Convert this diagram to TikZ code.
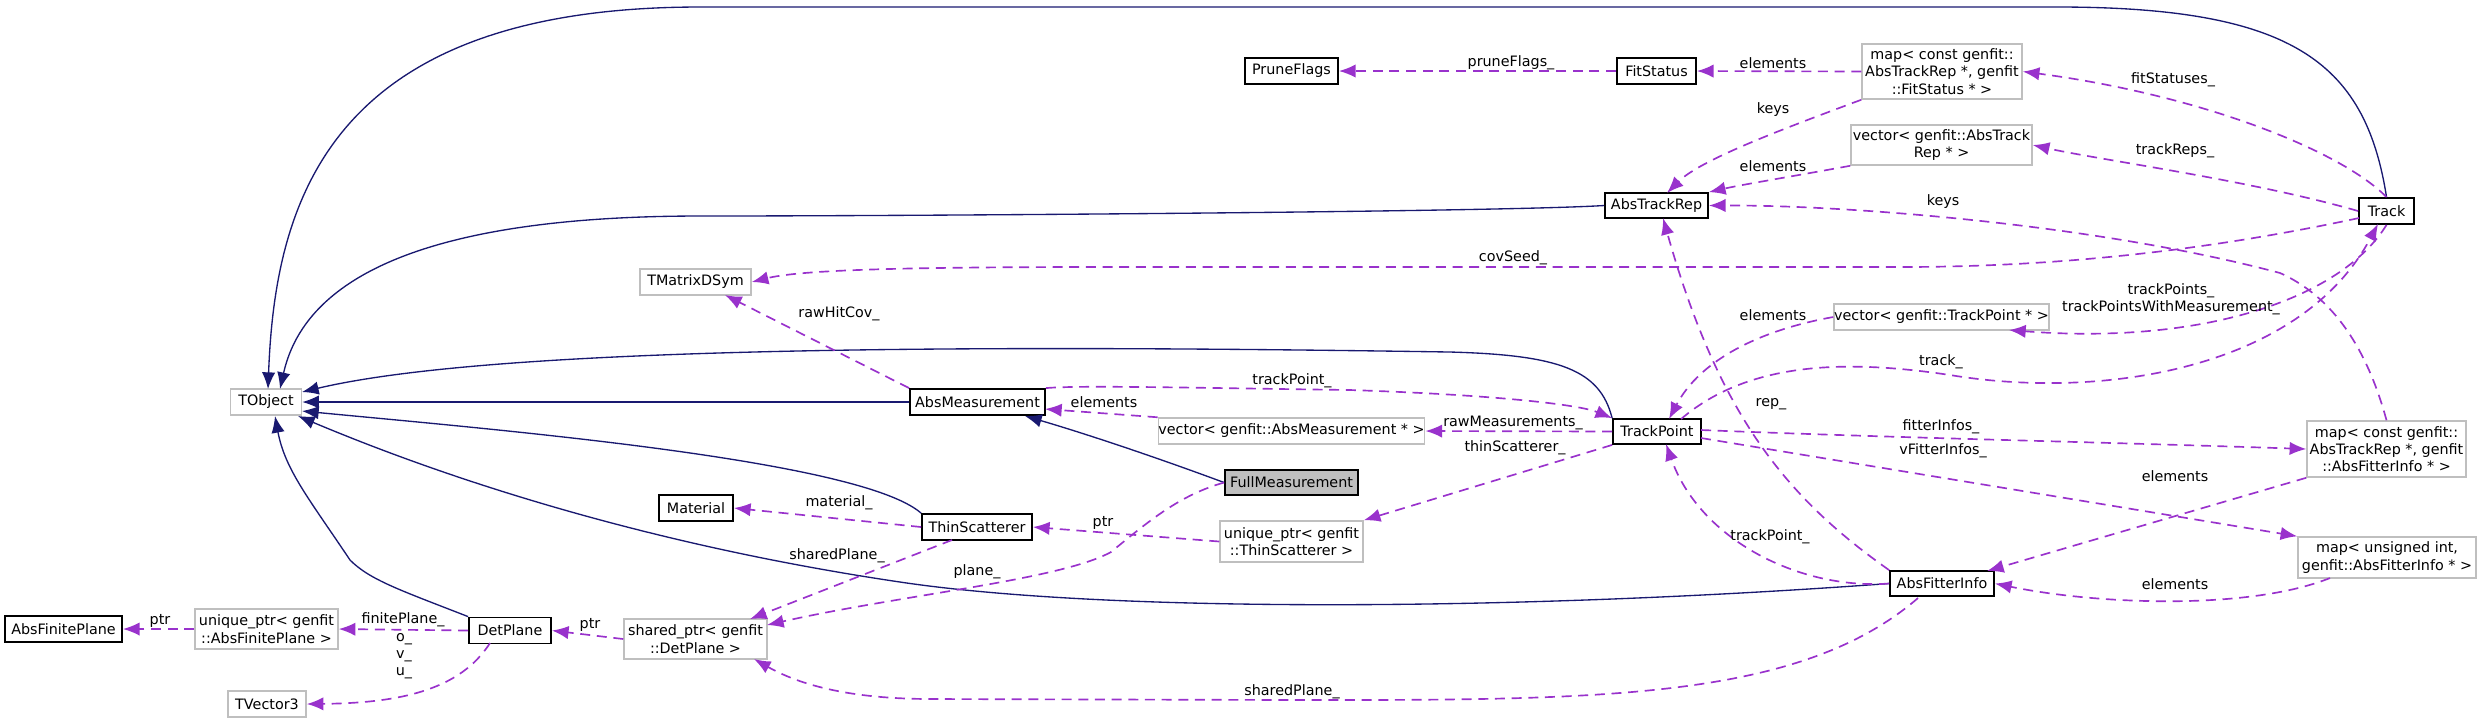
\documentclass[tikz,border=0pt]{standalone}
\usepackage{fontspec}
\setmainfont{DejaVu Sans}
\usetikzlibrary{arrows.meta}
\definecolor{inh}{RGB}{25,25,112}
\definecolor{usg}{RGB}{153,50,204}
\definecolor{gbd}{RGB}{191,191,191}
\begin{document}
\begin{tikzpicture}[x=0.3pt,y=-0.3pt,
  every node/.style={font=\fontsize{4.3pt}{5.2pt}\selectfont, inner sep=0pt, align=center},
  bx/.style={draw=black, line width=0.55pt, fill=white},
  gx/.style={draw=gbd, line width=0.45pt, fill=white},
  fx/.style={draw=black, line width=0.55pt, fill=gbd},
  lbl/.style={fill=none},
  ih/.style={draw=inh, line width=0.4pt, -{Latex[length=5pt,width=4pt]}},
  us/.style={draw=usg, line width=0.5pt, dash pattern=on 3pt off 2pt, -{Latex[length=5pt,width=4pt]}}]
\useasboundingbox (0,0) rectangle (2483,720);
% nodes
\node[gx, minimum width=21.3pt, minimum height=7.8pt] (tobj) at (266,402) {TObject};
\node[bx, minimum width=35.1pt, minimum height=7.8pt] (afp) at (63.5,629) {AbsFinitePlane};
\node[gx, minimum width=42.9pt, minimum height=12pt] (uafp) at (266.5,629) {unique\_ptr< genfit\\::AbsFinitePlane >};
\node[bx, minimum width=24.6pt, minimum height=7.8pt] (detp) at (510,630.5) {DetPlane};
\node[gx, minimum width=23.4pt, minimum height=7.8pt] (tv3) at (267,704) {TVector3};
\node[gx, minimum width=42.9pt, minimum height=12pt] (sdp) at (695.5,639) {shared\_ptr< genfit\\::DetPlane >};
\node[bx, minimum width=22.2pt, minimum height=7.8pt] (mat) at (696,508) {Material};
\node[bx, minimum width=33pt, minimum height=7.8pt] (thin) at (977,527) {ThinScatterer};
\node[bx, minimum width=40.5pt, minimum height=7.8pt] (absm) at (977.5,402) {AbsMeasurement};
\node[gx, minimum width=78.9pt, minimum height=7.8pt] (vam) at (1291.5,431) {vector< genfit::AbsMeasurement * >};
\node[fx, minimum width=39.9pt, minimum height=7.5pt] (full) at (1291.5,482.5) {FullMeasurement};
\node[gx, minimum width=42.9pt, minimum height=12.3pt] (uts) at (1291.5,541.5) {unique\_ptr< genfit\\::ThinScatterer >};
\node[bx, minimum width=27.9pt, minimum height=7.8pt] (prune) at (1291.5,71) {PruneFlags};
\node[gx, minimum width=33.3pt, minimum height=7.8pt] (tmat) at (695.5,282) {TMatrixDSym};
\node[bx, minimum width=23.7pt, minimum height=7.8pt] (fits) at (1656.5,71) {FitStatus};
\node[gx, minimum width=48pt, minimum height=16.5pt] (mfs) at (1942,71.5) {map< const genfit::\\AbsTrackRep *, genfit\\::FitStatus * >};
\node[gx, minimum width=54.3pt, minimum height=12pt] (vatr) at (1941.5,145) {vector< genfit::AbsTrack\\Rep * >};
\node[bx, minimum width=30.9pt, minimum height=7.5pt] (atr) at (1656.5,205.5) {AbsTrackRep};
\node[bx, minimum width=16.5pt, minimum height=7.8pt] (track) at (2386.5,211) {Track};
\node[gx, minimum width=64.5pt, minimum height=7.8pt] (vtp) at (1941.5,317) {vector< genfit::TrackPoint * >};
\node[bx, minimum width=26.4pt, minimum height=7.5pt] (tp) at (1657,431.5) {TrackPoint};
\node[gx, minimum width=47.7pt, minimum height=16.8pt] (mafi) at (2386.5,449) {map< const genfit::\\AbsTrackRep *, genfit\\::AbsFitterInfo * >};
\node[gx, minimum width=53.4pt, minimum height=12.3pt] (mui) at (2387,557.5) {map< unsigned int,\\genfit::AbsFitterInfo * >};
\node[bx, minimum width=31.2pt, minimum height=7.5pt] (afi) at (1942,583.5) {AbsFitterInfo};
% inheritance
\draw[ih] (track.north) .. controls (2365,60) and (2290,6) .. (2050,7) -- (700,7) .. controls (330,7) and (275,200) .. (268,389);
\draw[ih] (atr.west) .. controls (1500,212) and (900,216) .. (700,216) .. controls (380,216) and (300,300) .. (280,389);
\draw[ih] (tp.north west) .. controls (1600,370) and (1560,355) .. (1450,352) .. controls (1000,345) and (500,345) .. (302,392);
\draw[ih] (absm.west) -- (tobj.east);
\draw[ih] (thin.north west) .. controls (860,460) and (500,430) .. (302,411);
\draw[ih] (afi.west) .. controls (1500,612) and (1100,612) .. (900,582) .. controls (650,545) and (450,480) .. (298,416);
\draw[ih] (detp.north west) .. controls (400,590) and (370,580) .. (350,560) .. controls (310,500) and (285,470) .. (275,416);
\draw[ih] (full.west) .. controls (1150,455) and (1080,432) .. (1025,416);
% usage
\draw[us] (fits.west) -- (prune.east);
\draw[us] (mfs.west) -- (fits.east);
\draw[us] (mfs.south west) .. controls (1780,130) and (1700,160) .. (1667,193);
\draw[us] (vatr.south west) .. controls (1800,175) and (1740,185) .. (atr.north east);
\draw[us] (mafi.north) .. controls (2370,360) and (2340,300) .. (2280,273) .. controls (2100,225) and (1850,205) .. (atr.east);
\draw[us] (afi.north west) .. controls (1790,500) and (1720,420) .. (1663,218);
\draw[us] (track.north) .. controls (2340,150) and (2200,95) .. (mfs.east);
\draw[us] (track.west) .. controls (2250,180) and (2100,160) .. (vatr.east);
\draw[us] (2359,218) .. controls (2200,252) and (2050,267) .. (1900,267) -- (1100,267) .. controls (900,267) and (800,270) .. (tmat.east);
\draw[us] (absm.north west) -- (725,295);
\draw[us] (track.south) .. controls (2340,300) and (2200,345) .. (2009,330);
\draw[us] (1681,419) .. controls (1750,360) and (1850,360) .. (1950,375) .. controls (2100,400) and (2300,370) .. (2378,224);
\draw[us] (vtp.west) .. controls (1760,330) and (1700,360) .. (1669,419);
\draw[us] (absm.north east) .. controls (1080,385) and (1200,388) .. (1350,390) .. controls (1500,395) and (1580,405) .. (tp.north west);
\draw[us] (afi.west) .. controls (1800,590) and (1700,540) .. (1666,444);
\draw[us] (vam.north west) -- (1045,409);
\draw[us] (tp.west) -- (vam.east);
\draw[us] (tp.south west) -- (uts.north east);
\draw[us] (1701,430) .. controls (1900,438) and (2100,442) .. (mafi.west);
\draw[us] (1701,438) -- (mui.north west);
\draw[us] (mafi.south west) -- (1987,571);
\draw[us] (2330,578) .. controls (2250,610) and (2100,605) .. (afi.east);
\draw[us] (uts.west) -- (thin.east);
\draw[us] (thin.west) -- (mat.east);
\draw[us] (952,540) -- (750,619);
\draw[us] (full.west) .. controls (1180,495) and (1150,520) .. (1111,552) .. controls (1060,580) and (900,595) .. (767,625);
\draw[us] (1918,598) .. controls (1800,700) and (1600,700) .. (1300,700) -- (932,699) .. controls (850,699) and (800,685) .. (754,659);
\draw[us] (sdp.west) -- (detp.east);
\draw[us] (detp.west) -- (uafp.east);
\draw[us] (uafp.west) -- (afp.east);
\draw[us] (490,643) .. controls (460,690) and (400,703) .. (tv3.east);
% labels
\node[lbl] (l1) at (1511,63) {pruneFlags\_};
\node[lbl] (l2) at (1773,63) {elements};
\node[lbl] (l3) at (1773,110) {keys};
\node[lbl] (l4) at (1773,166) {elements};
\node[lbl] (l5) at (1943,202) {keys};
\node[lbl] (l6) at (2173,80) {fitStatuses\_};
\node[lbl] (l7) at (2175,151) {trackReps\_};
\node[lbl] (l8) at (1513,258) {covSeed\_};
\node[lbl] (l9) at (2171,299) {trackPoints\_\\trackPointsWithMeasurement\_};
\node[lbl] (l10) at (1773,315) {elements};
\node[lbl] (l11) at (1941,362) {track\_};
\node[lbl] (l12) at (839,314) {rawHitCov\_};
\node[lbl] (l13) at (1292,381) {trackPoint\_};
\node[lbl] (l14) at (1104,402) {elements};
\node[lbl] (l15) at (839,503) {material\_};
\node[lbl] (l16) at (1103,523) {ptr};
\node[lbl] (l17) at (837,556) {sharedPlane\_};
\node[lbl] (l18) at (977,572) {plane\_};
\node[lbl] (l19) at (1292,692) {sharedPlane\_};
\node[lbl] (l20) at (590,625) {ptr};
\node[lbl] (l21) at (403,620) {finitePlane\_};
\node[lbl] (l22) at (160,621) {ptr};
\node[lbl] (l23) at (404,656) {o\_\\v\_\\u\_};
\node[lbl] (l24) at (1513,423) {rawMeasurements\_};
\node[lbl] (l25) at (1515,448) {thinScatterer\_};
\node[lbl] (l26) at (1771,404) {rep\_};
\node[lbl] (l27) at (1941,427) {fitterInfos\_};
\node[lbl] (l28) at (1943,451) {vFitterInfos\_};
\node[lbl] (l29) at (2175,476) {elements};
\node[lbl] (l30) at (1770,537) {trackPoint\_};
\node[lbl] (l31) at (2175,584) {elements};
\end{tikzpicture}
\end{document}
